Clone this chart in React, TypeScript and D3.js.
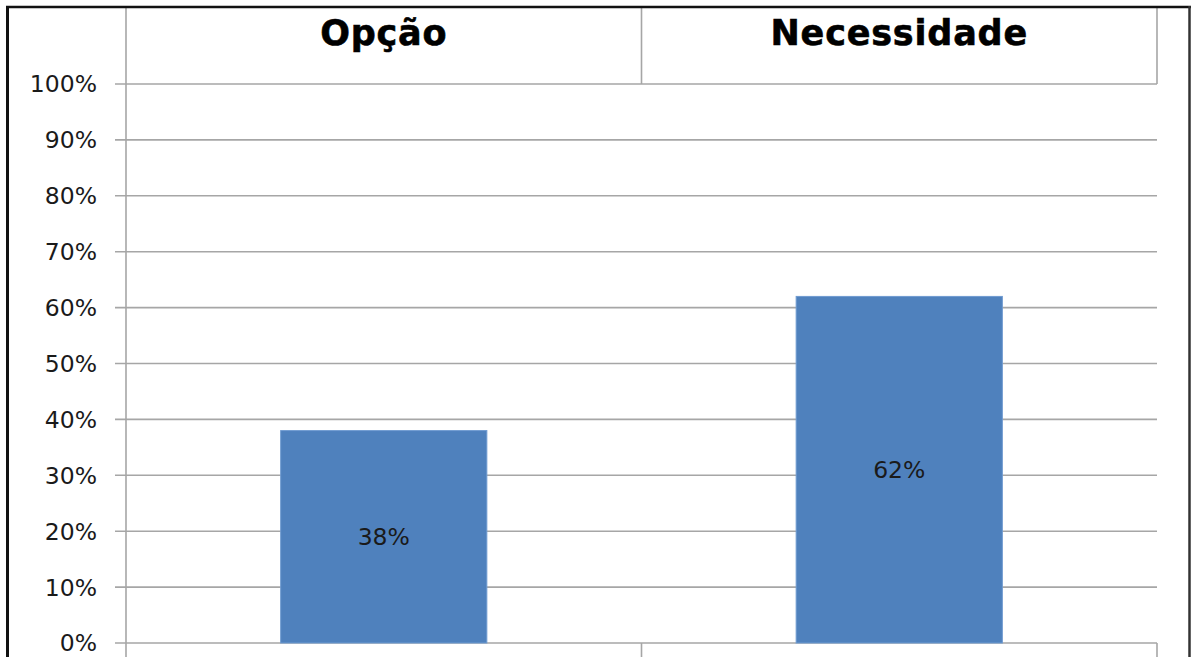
import React from "react";
import * as d3 from "d3";

const categories = ["Opção", "Necessidade"];
const values = [0.38, 0.62];
const yTicks = [0, 0.1, 0.2, 0.3, 0.4, 0.5, 0.6, 0.7, 0.8, 0.9, 1.0];

export default function App() {
  const W = 1192, H = 657;
  const left = 126, right = 1157, top = 84, bottom = 643;
  const x = d3.scaleBand<string>().domain(categories).range([left, right]).padding(0);
  const y = d3.scaleLinear().domain([0, 1]).range([bottom, top]);
  const bw = x.bandwidth() * 0.4;
  const fmt = d3.format(".0%");
  const grid = "#a6a6a6";
  return (
    <svg width={W} height={H} style={{ position: "absolute", left: 0, top: 0, background: "#fff" }}>
      <rect x={0} y={0} width={W} height={H} fill="#fff" />
      {yTicks.map((t) => (
        <g key={t}>
          <line x1={115} x2={right} y1={y(t)} y2={y(t)} stroke={grid} strokeWidth={1.6} />
          <text x={97} y={y(t)} dy="0.36em" textAnchor="end" fontFamily="DejaVu Sans" fontSize={23.5} fill="#1a1a1a">
            {fmt(t)}
          </text>
        </g>
      ))}
      <line x1={left} x2={left} y1={8} y2={H} stroke={grid} strokeWidth={1.6} />
      {categories.slice(1).map((c) => (
        <line key={c} x1={x(c)!} x2={x(c)!} y1={8} y2={top} stroke={grid} strokeWidth={1.6} />
      ))}
      <line x1={right} x2={right} y1={8} y2={top} stroke={grid} strokeWidth={1.6} />
      {categories.slice(1).map((c) => (
        <line key={"b" + c} x1={x(c)!} x2={x(c)!} y1={bottom} y2={H} stroke={grid} strokeWidth={1.6} />
      ))}
      <line x1={right} x2={right} y1={bottom} y2={H} stroke={grid} strokeWidth={1.6} />
      {categories.map((c) => (
        <text key={"h" + c} x={x(c)! + x.bandwidth() / 2} y={45} textAnchor="middle" fontFamily="DejaVu Sans" fontWeight="bold" fontSize={35} letterSpacing={0.8} fill="#000" stroke="#000" strokeWidth={0.6}>
          {c}
        </text>
      ))}
      {categories.map((c, i) => {
        const cx = x(c)! + x.bandwidth() / 2;
        return (
          <g key={"bar" + c}>
            <rect x={cx - bw / 2} y={y(values[i])} width={bw} height={bottom - y(values[i])} fill="#4f81bd" stroke="#6f9bd1" strokeWidth={1} />
            <text x={cx} y={y(values[i] / 2)} dy="0.36em" textAnchor="middle" fontFamily="DejaVu Sans" fontSize={23.5} fill="#1a1a1a">
              {fmt(values[i])}
            </text>
          </g>
        );
      })}
      <line x1={6} x2={1191} y1={7} y2={7} stroke="#111" strokeWidth={2.5} />
      <line x1={7.5} x2={7.5} y1={6} y2={H} stroke="#111" strokeWidth={3} />
      <line x1={1189.5} x2={1189.5} y1={6} y2={H} stroke="#333" strokeWidth={2.5} />
    </svg>
  );
}
